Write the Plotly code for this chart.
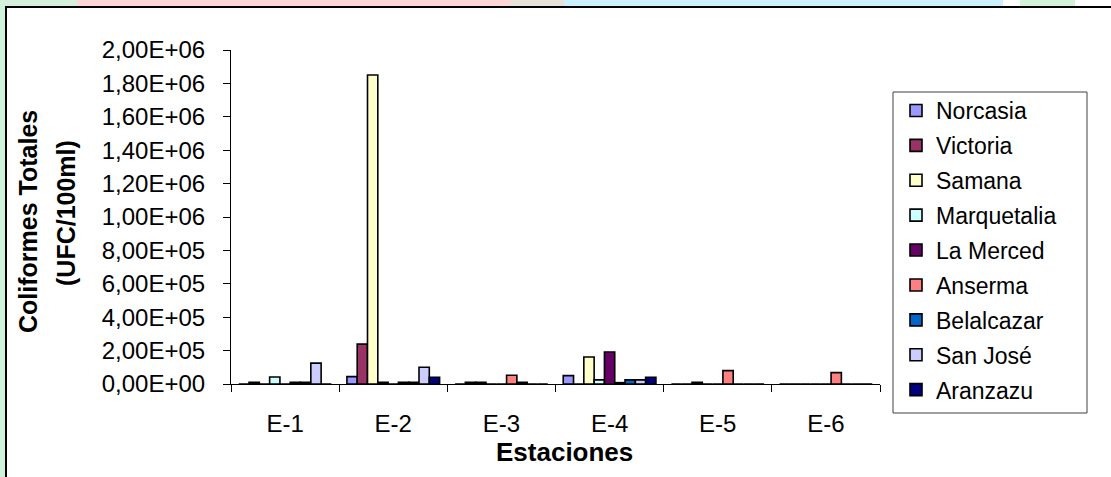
import plotly.graph_objects as go

# estaciones de muestreo
estaciones = ['E-1', 'E-2', 'E-3', 'E-4', 'E-5', 'E-6']

# coliformes totales (UFC/100ml) por municipio
norcasia = [0, 44000, 0, 50000, 0, 0]
victoria = [10000, 239000, 10000, 0, 0, 0]
samana = [0, 1850000, 10000, 162000, 10000, 0]
marquetalia = [42000, 10000, 0, 25000, 0, 0]
la_merced = [0, 0, 0, 192000, 0, 0]
anserma = [10000, 10000, 52000, 8000, 80000, 68000]
belalcazar = [10000, 10000, 10000, 25000, 0, 0]
san_jose = [125000, 100000, 0, 25000, 0, 0]
aranzazu = [0, 40000, 0, 40000, 0, 0]

y_ticks = [0, 200000, 400000, 600000, 800000, 1000000, 1200000, 1400000, 1600000, 1800000, 2000000]
y_labels = ['0,00E+00', '2,00E+05', '4,00E+05', '6,00E+05', '8,00E+05', '1,00E+06',
            '1,20E+06', '1,40E+06', '1,60E+06', '1,80E+06', '2,00E+06']

series = [
    ('Norcasia', norcasia, '#9999FF'),
    ('Victoria', victoria, '#993366'),
    ('Samana', samana, '#FFFFCC'),
    ('Marquetalia', marquetalia, '#CCFFFF'),
    ('La Merced', la_merced, '#660066'),
    ('Anserma', anserma, '#FF8080'),
    ('Belalcazar', belalcazar, '#0066CC'),
    ('San José', san_jose, '#CCCCFF'),
    ('Aranzazu', aranzazu, '#000080'),
]

W, H = 1111, 477
L, R, T, B = 231, 880, 50, 384  # plot area in pixels


def px(x):
    return (x - L) / (R - L)


def py(y):
    return (B - y) / (B - T)


fig = go.Figure()
for i, (name, vals, color) in enumerate(series):
    fig.add_trace(go.Bar(x=estaciones, y=vals, name=name, legendgroup=str(i),
                         marker=dict(color=color, line=dict(color='black', width=1.6))))

font = 'Liberation Sans, Arial, sans-serif'

# background decoration (page edges)
strips = [
    (0, 77, '#D6EEDC'), (77, 510, '#FFD6D6'), (510, 564, '#E6E2DA'),
    (564, 1003, '#CCF0FF'), (1020, 1075, '#D2F2DA'),
]
shapes = []
for x0, x1, c in strips:
    shapes.append(dict(type='rect', xref='paper', yref='paper', x0=px(x0), x1=px(x1),
                       y0=py(6), y1=py(-2), fillcolor=c, line_width=0, layer='below'))
shapes.append(dict(type='rect', xref='paper', yref='paper', x0=px(-2), x1=px(5),
                   y0=py(H + 2), y1=py(6), fillcolor='#CFF2DD', line_width=0, layer='below'))
# chart frame
shapes.append(dict(type='rect', xref='paper', yref='paper', x0=px(6), x1=px(W + 10),
                   y0=py(H + 10), y1=py(7), fillcolor='rgba(0,0,0,0)',
                   line=dict(color='black', width=2)))
# legend frame
shapes.append(dict(type='rect', xref='paper', yref='paper', x0=px(893), x1=px(1087),
                   y0=py(413), y1=py(92), fillcolor='white',
                   line=dict(color='#404040', width=1), layer='below'))

fig.update_layout(
    width=W, height=H,
    margin=dict(l=L, r=W - R, t=T, b=H - B),
    paper_bgcolor='white', plot_bgcolor='white',
    font=dict(family=font, size=24, color='black'),
    barmode='group', bargap=0.143, bargroupgap=0,
    showlegend=True,
    legend=dict(x=px(896), y=py(89), xanchor='left', yanchor='top',
                bgcolor='rgba(0,0,0,0)', borderwidth=0,
                font=dict(size=23), traceorder='grouped', tracegroupgap=2),
    shapes=shapes,
    annotations=[
        dict(text='<b>Coliformes Totales</b>', xref='paper', yref='paper', x=px(28), y=py(222),
             xanchor='center', yanchor='middle', textangle=-90, showarrow=False, font=dict(size=25)),
        dict(text='<b>(UFC/100ml)</b>', xref='paper', yref='paper', x=px(66), y=py(213),
             xanchor='center', yanchor='middle', textangle=-90, showarrow=False, font=dict(size=25)),
        dict(text='<b>Estaciones</b>', xref='paper', yref='paper', x=px(564), y=py(452),
             xanchor='center', yanchor='middle', showarrow=False, font=dict(size=26)),
    ],
)
fig.update_xaxes(showline=True, linecolor='black', linewidth=1, ticks='outside', ticklen=7,
                 tickcolor='black', tickson='boundaries', ticklabelstandoff=18, showgrid=False)
fig.update_yaxes(range=[0, 2000000], tickvals=y_ticks, ticktext=y_labels, showline=True,
                 linecolor='black', linewidth=1, ticks='outside', ticklen=7, tickcolor='black',
                 ticklabelstandoff=13, showgrid=False, zeroline=False)

fig.write_html('out.html', config={'displayModeBar': False},
               post_script="document.body.style.margin='0';")
